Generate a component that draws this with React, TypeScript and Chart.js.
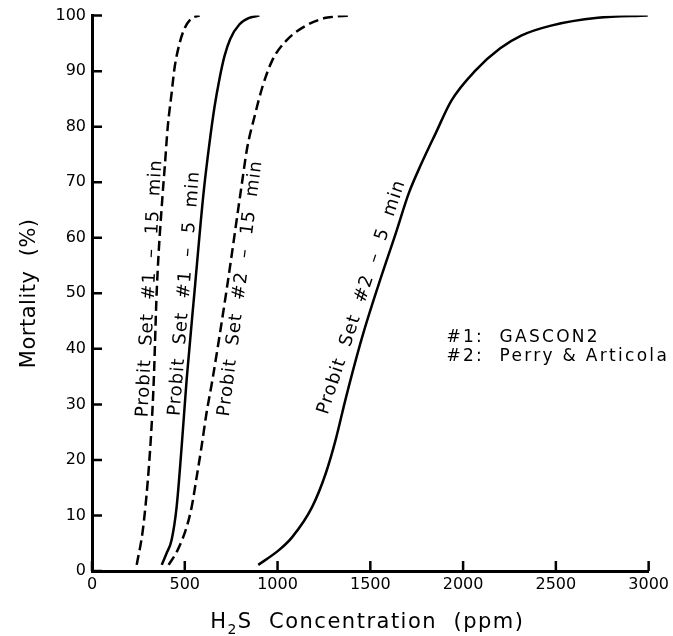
import React, { useEffect, useRef } from "react";
import { Chart, registerables } from "chart.js";

Chart.register(...registerables);

// Probit Set #1 – 15 min (dashed)
const set1min15X = [241, 274, 301, 322, 333, 349, 381, 392, 408, 429, 445, 472, 499, 537, 580];
const set1min15Y = [1.1, 7.4, 16.4, 26.6, 34.4, 50.5, 68, 72.7, 79.9, 86, 90.6, 95, 97.7, 99.5, 100];

// Probit Set #1 – 5 min (solid)
const set1min5X = [376, 402, 429, 456, 483, 510, 553, 601, 633, 660, 687, 714, 745, 794, 848, 902];
const set1min5Y = [1.1, 3.2, 5.6, 11.5, 22.3, 34.4, 50.5, 68, 77, 83.5, 88.6, 92.7, 95.8, 98.4, 99.6, 100];

// Probit Set #2 – 15 min (dashed)
const set2min15X = [413, 462, 510, 537, 564, 590, 617, 649, 725, 805, 837, 875, 918, 971, 1047, 1154, 1261, 1395];
const set2min15Y = [1.1, 3.8, 7.9, 11.5, 16.9, 22.3, 28.4, 34.4, 50.5, 69.1, 76.3, 81.7, 87.1, 91.9, 95.5, 98.2, 99.6, 100];

// Probit Set #2 – 5 min (solid)
const set2min5X = [896, 1009, 1079, 1186, 1260, 1313, 1367, 1456, 1546, 1637, 1707, 1776, 1852, 1937, 2066, 2200, 2313, 2474, 2726, 2995];
const set2min5Y = [1.1, 3.8, 6.1, 11.5, 17.6, 23.6, 31, 42.1, 51.7, 60.8, 68, 73.4, 78.8, 84.7, 90.1, 94.1, 96.4, 98.2, 99.6, 100];

const xTicks = [0, 500, 1000, 1500, 2000, 2500, 3000];
const yTicks = [0, 10, 20, 30, 40, 50, 60, 70, 80, 90, 100];

const curveLabels = ["Probit  Set  #1  –  15  min", "Probit  Set  #1  –  5  min", "Probit  Set  #2  –  15  min", "Probit  Set  #2  –  5  min"];
const labelX = [311, 499, 800, 1454];
const labelY = [50.9, 50, 50.9, 49.3];
const labelAngle = [-86.9, -85.4, -82.7, -71.6];

const noteLines = ["#1:  GASCON2", "#2:  Perry & Articola"];
const noteX = 1910;
const noteY = [41.2, 37.9];

const FONT = "'DejaVu Sans', sans-serif";

function pts(xs: number[], ys: number[]) {
  return xs.map((x, i) => ({ x, y: ys[i] }));
}

export default function App() {
  const ref = useRef<HTMLCanvasElement>(null);

  useEffect(() => {
    document.body.style.margin = "0";
    const canvas = ref.current!;

    const decor = {
      id: "decor",
      afterDraw(chart: any) {
        const ctx = chart.ctx as CanvasRenderingContext2D;
        const xs = chart.scales.x;
        const ys = chart.scales.y;
        const area = chart.chartArea;
        ctx.save();
        ctx.strokeStyle = "#000";
        ctx.fillStyle = "#000";
        // inward tick marks
        ctx.lineWidth = 2.5;
        ctx.beginPath();
        xTicks.forEach((v) => {
          const px = xs.getPixelForValue(v);
          ctx.moveTo(px, area.bottom);
          ctx.lineTo(px, area.bottom - 10);
        });
        yTicks.forEach((v) => {
          const py = ys.getPixelForValue(v);
          ctx.moveTo(area.left, py);
          ctx.lineTo(area.left + 10, py);
        });
        ctx.stroke();

        // curve labels
        (ctx as any).letterSpacing = "1px";
        ctx.font = `18px ${FONT}`;
        ctx.textAlign = "center";
        ctx.textBaseline = "middle";
        curveLabels.forEach((t, i) => {
          ctx.save();
          ctx.translate(xs.getPixelForValue(labelX[i]), ys.getPixelForValue(labelY[i]));
          ctx.rotate((labelAngle[i] * Math.PI) / 180);
          ctx.fillText(t, 0, 0);
          ctx.restore();
        });

        // notes
        ctx.font = `17px ${FONT}`;
        (ctx as any).letterSpacing = "2.3px";
        ctx.textAlign = "left";
        ctx.textBaseline = "alphabetic";
        noteLines.forEach((t, i) => {
          ctx.fillText(t, xs.getPixelForValue(noteX), ys.getPixelForValue(noteY[i]));
        });

        // y title
        (ctx as any).letterSpacing = "0.5px";
        ctx.font = `21px ${FONT}`;
        ctx.save();
        ctx.translate(35, (area.top + area.bottom) / 2);
        ctx.rotate(-Math.PI / 2);
        ctx.textAlign = "center";
        ctx.textBaseline = "alphabetic";
        ctx.fillText("Mortality  (%)", 0, 0);
        ctx.restore();

        // x title with subscript
        (ctx as any).letterSpacing = "1.5px";
        const base = 628;
        const partsBig1 = "H";
        const sub = "2";
        const partsBig2 = "S  Concentration  (ppm)";
        ctx.font = `21px ${FONT}`;
        const w1 = ctx.measureText(partsBig1).width;
        const w3 = ctx.measureText(partsBig2).width;
        ctx.font = `14px ${FONT}`;
        const w2 = ctx.measureText(sub).width;
        const total = w1 + w2 + w3;
        let x0 = (area.left + area.right) / 2 - total / 2 - 3;
        ctx.textAlign = "left";
        ctx.font = `21px ${FONT}`;
        ctx.fillText(partsBig1, x0, base);
        x0 += w1;
        ctx.font = `14px ${FONT}`;
        ctx.fillText(sub, x0, base + 6);
        x0 += w2;
        ctx.font = `21px ${FONT}`;
        ctx.fillText(partsBig2, x0, base);
        ctx.restore();
      },
    };

    const lineDs = (xs: number[], ys: number[], dashed: boolean) => ({
      data: pts(xs, ys),
      showLine: true,
      borderColor: "#000",
      backgroundColor: "#000",
      borderWidth: 2.5,
      borderDash: dashed ? [10, 5] : [],
      pointRadius: 0,
      cubicInterpolationMode: "monotone" as const,
      fill: false,
    });

    const chart = new Chart(canvas, {
      type: "scatter",
      data: {
        datasets: [
          lineDs(set1min15X, set1min15Y, true),
          lineDs(set1min5X, set1min5Y, false),
          lineDs(set2min15X, set2min15Y, true),
          lineDs(set2min5X, set2min5Y, false),
        ],
      },
      options: {
        responsive: false,
        animation: false,
        devicePixelRatio: 1,
        layout: { padding: { top: 15, right: 22, left: 0, bottom: 0 } },
        plugins: { legend: { display: false }, tooltip: { enabled: false } },
        scales: {
          x: {
            type: "linear",
            min: 0,
            max: 3000,
            afterFit: (s: any) => {
              s.height = 65;
            },
            afterBuildTicks: (s: any) => {
              s.ticks = xTicks.map((v) => ({ value: v }));
            },
            grid: { display: false, drawTicks: false },
            border: { display: true, width: 3, color: "#000" },
            ticks: {
              color: "#000",
              font: { family: FONT, size: 16 },
              padding: 4,
              maxRotation: 0,
              autoSkip: false,
              callback: (v: any) => String(v),
            },
          },
          y: {
            type: "linear",
            min: 0,
            max: 100,
            afterFit: (s: any) => {
              s.width = 92;
            },
            afterBuildTicks: (s: any) => {
              s.ticks = yTicks.map((v) => ({ value: v }));
            },
            grid: { display: false, drawTicks: false },
            border: { display: true, width: 3, color: "#000" },
            ticks: {
              color: "#000",
              font: { family: FONT, size: 16 },
              padding: 6,
              autoSkip: false,
              callback: (v: any) => String(v),
            },
          },
        },
      },
      plugins: [decor],
    });
    return () => chart.destroy();
  }, []);

  return (
    <div style={{ width: 673, height: 636, background: "#fff" }}>
      <canvas ref={ref} width={673} height={636} />
    </div>
  );
}
